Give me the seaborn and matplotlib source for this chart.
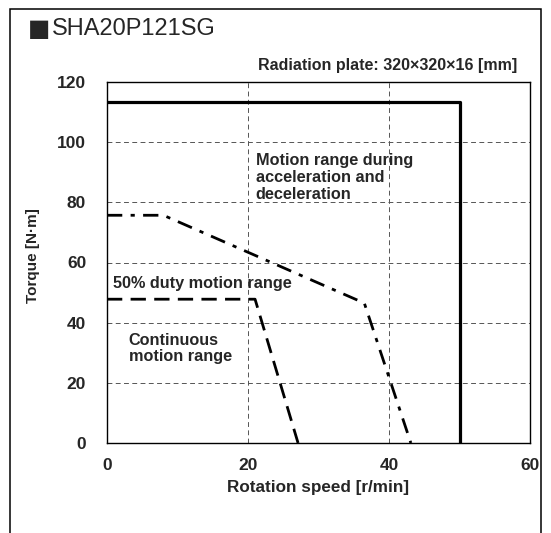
import matplotlib
matplotlib.use("Agg")
import matplotlib.pyplot as plt
import seaborn as sns
import pandas as pd
from matplotlib.patches import Rectangle

# Data
accel_speed = [0, 50, 50]
accel_torque = [113.3, 113.3, 0]
duty_speed = [0, 8, 36.5, 43.1]
duty_torque = [75.7, 75.7, 46.5, 0]
cont_speed = [0, 21, 27.1]
cont_torque = [47.8, 47.8, 0]
x_ticks = [0, 20, 40, 60]
y_ticks = [0, 20, 40, 60, 80, 100, 120]

sns.set_theme(style="white")
plt.rcParams['font.family'] = ['Liberation Sans', 'DejaVu Sans']

W, H = 551, 533
fig = plt.figure(figsize=(W / 100, H / 100), dpi=100)
ax = fig.add_axes([107 / W, 1 - 443 / H, 423 / W, 361 / H])

df_a = pd.DataFrame({"speed": accel_speed, "torque": accel_torque})
df_d = pd.DataFrame({"speed": duty_speed, "torque": duty_torque})
df_c = pd.DataFrame({"speed": cont_speed, "torque": cont_torque})

sns.lineplot(data=df_a, x="speed", y="torque", sort=False, ax=ax, color="black", linewidth=2.3, estimator=None)
sns.lineplot(data=df_d, x="speed", y="torque", sort=False, ax=ax, color="black", linewidth=2.0, estimator=None)
sns.lineplot(data=df_c, x="speed", y="torque", sort=False, ax=ax, color="black", linewidth=2.0, estimator=None)
lines = ax.get_lines()
lines[1].set_dashes([5.5, 3, 1.5, 3])
lines[2].set_dashes([5.5, 3])
for ln in lines:
    ln.set_solid_capstyle('butt')
    ln.set_dash_capstyle('butt')
    ln.set_clip_on(False)

ax.set_xlim(0, 60)
ax.set_ylim(0, 120)
ax.set_xticks(x_ticks)
ax.set_yticks(y_ticks)
ax.set_xticklabels([str(t) for t in x_ticks], fontsize=12.5, fontweight="bold")
ax.set_yticklabels([str(t) for t in y_ticks], fontsize=12.5, fontweight="bold")
ax.tick_params(axis="x", pad=11, length=0)
ax.tick_params(axis="y", pad=15, length=0)
ax.grid(True, color="#555555", linestyle=(0, (5, 3.5)), linewidth=0.7)
ax.set_axisbelow(True)
for s in ax.spines.values():
    s.set_visible(True)
    s.set_color("black")
    s.set_linewidth(1.0)

ax.set_xlabel("Rotation speed [r/min]", fontsize=12.3, fontweight="bold", labelpad=5)
ax.set_ylabel("Torque [N·m]", fontsize=11, fontweight="bold")
ax.yaxis.set_label_coords(-0.158, 0.52)

ax.text(21.1, 96.5, "Motion range during\nacceleration and\ndeceleration", fontsize=11.7,
        fontweight="bold", va="top", ha="left", linespacing=1.17)
ax.text(0.8, 51.5, "50% duty motion range", fontsize=11.7, fontweight="bold", va="baseline", ha="left")
ax.text(3.1, 36.5, "Continuous\nmotion range", fontsize=11.7, fontweight="bold", va="top", ha="left",
        linespacing=1.1)

fig.text(517 / W, 1 - 70 / H, "Radiation plate: 320×320×16 [mm]", fontsize=11.5, fontweight="bold",
         ha="right", va="baseline")
fig.text(28 / W, 1 - 29 / H, "■", fontsize=17, ha="left", va="center", family=['DejaVu Sans'])
fig.text(52 / W, 1 - 29 / H, "SHA20P121SG", fontsize=17, ha="left", va="center",
         family=['Liberation Sans', 'DejaVu Sans'])

fig.patches.append(Rectangle((10 / W, -0.1), (541 - 10) / W, 1.1 - 9 / H,
                             transform=fig.transFigure, fill=False, edgecolor="black",
                             linewidth=1.1))

fig.savefig("out.png", dpi=100)
